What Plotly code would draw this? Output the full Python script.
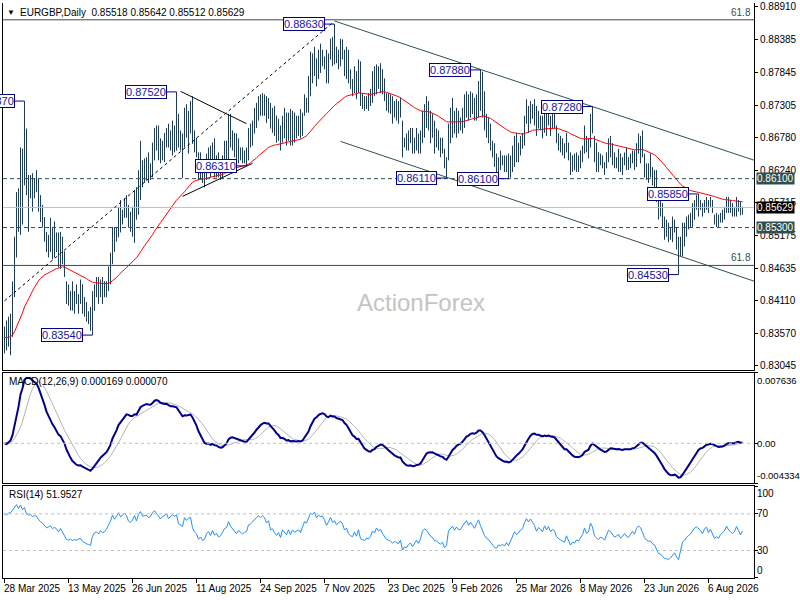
import numpy as np
import pandas as pd
import plotly.graph_objects as go
from plotly.subplots import make_subplots

# EURGBP daily bars (one bar per trading day)
highs = [
    0.8368, 0.8378, 0.8384, 0.8389, 0.8442, 0.8515, 0.8588, 0.8594, 0.8661, 0.8659,
    0.8737, 0.8692, 0.8616, 0.8616, 0.8619, 0.8611, 0.8624, 0.8611, 0.8583, 0.8567,
    0.8547, 0.8523, 0.8518, 0.8546, 0.8530, 0.8540, 0.8522, 0.8522, 0.8523, 0.8515,
    0.8491, 0.8442, 0.8437, 0.8426, 0.8442, 0.8426, 0.8437, 0.8421, 0.8445, 0.8437,
    0.8416, 0.8408, 0.8393, 0.8400, 0.8426, 0.8437, 0.8449, 0.8449, 0.8445, 0.8449,
    0.8442, 0.8442, 0.8466, 0.8489, 0.8531, 0.8531, 0.8531, 0.8564, 0.8575, 0.8559,
    0.8578, 0.8583, 0.8567, 0.8556, 0.8564, 0.8591, 0.8596, 0.8624, 0.8672, 0.8640,
    0.8643, 0.8645, 0.8653, 0.8635, 0.8669, 0.8693, 0.8697, 0.8697, 0.8676, 0.8672,
    0.8685, 0.8693, 0.8700, 0.8689, 0.8705, 0.8697, 0.8752, 0.8716, 0.8689, 0.8684,
    0.8726, 0.8732, 0.8721, 0.8737, 0.8745, 0.8689, 0.8677, 0.8653, 0.8653, 0.8635,
    0.8624, 0.8651, 0.8661, 0.8664, 0.8669, 0.8676, 0.8648, 0.8653, 0.8629, 0.8648,
    0.8672, 0.8672, 0.8716, 0.8716, 0.8689, 0.8685, 0.8684, 0.8676, 0.8661, 0.8661,
    0.8656, 0.8661, 0.8693, 0.8700, 0.8705, 0.8726, 0.8734, 0.8745, 0.8748, 0.8750,
    0.8748, 0.8745, 0.8742, 0.8734, 0.8726, 0.8729, 0.8713, 0.8708, 0.8697, 0.8713,
    0.8726, 0.8718, 0.8718, 0.8724, 0.8721, 0.8718, 0.8713, 0.8713, 0.8724, 0.8718,
    0.8748, 0.8742, 0.8778, 0.8818, 0.8815, 0.8826, 0.8807, 0.8821, 0.8831, 0.8821,
    0.8810, 0.8821, 0.8815, 0.8839, 0.8842, 0.8863, 0.8826, 0.8821, 0.8839, 0.8838,
    0.8821, 0.8826, 0.8821, 0.8789, 0.8773, 0.8794, 0.8786, 0.8805, 0.8802, 0.8750,
    0.8745, 0.8745, 0.8750, 0.8757, 0.8786, 0.8794, 0.8797, 0.8794, 0.8799, 0.8789,
    0.8774, 0.8750, 0.8750, 0.8748, 0.8745, 0.8737, 0.8740, 0.8737, 0.8742, 0.8705,
    0.8677, 0.8684, 0.8689, 0.8693, 0.8693, 0.8677, 0.8693, 0.8684, 0.8689, 0.8721,
    0.8732, 0.8745, 0.8737, 0.8721, 0.8716, 0.8705, 0.8692, 0.8689, 0.8677, 0.8677,
    0.8659, 0.8645, 0.8700, 0.8726, 0.8742, 0.8721, 0.8726, 0.8721, 0.8710, 0.8726,
    0.8748, 0.8753, 0.8748, 0.8753, 0.8750, 0.8742, 0.8748, 0.8770, 0.8788, 0.8785,
    0.8753, 0.8716, 0.8710, 0.8700, 0.8672, 0.8668, 0.8651, 0.8645, 0.8656, 0.8648,
    0.8648, 0.8648, 0.8651, 0.8648, 0.8664, 0.8680, 0.8685, 0.8669, 0.8680, 0.8685,
    0.8713, 0.8740, 0.8729, 0.8737, 0.8732, 0.8740, 0.8729, 0.8721, 0.8713, 0.8713,
    0.8724, 0.8718, 0.8724, 0.8713, 0.8716, 0.8718, 0.8697, 0.8684, 0.8680, 0.8676,
    0.8668, 0.8685, 0.8669, 0.8653, 0.8648, 0.8651, 0.8653, 0.8648, 0.8656, 0.8664,
    0.8697, 0.8680, 0.8676, 0.8716, 0.8728, 0.8680, 0.8669, 0.8653, 0.8651, 0.8648,
    0.8637, 0.8653, 0.8676, 0.8680, 0.8668, 0.8653, 0.8645, 0.8659, 0.8651, 0.8645,
    0.8653, 0.8661, 0.8645, 0.8651, 0.8656, 0.8656, 0.8668, 0.8684, 0.8680, 0.8689,
    0.8651, 0.8635, 0.8635, 0.8651, 0.8629, 0.8624, 0.8624, 0.8580, 0.8575, 0.8570,
    0.8548, 0.8543, 0.8538, 0.8531, 0.8548, 0.8543, 0.8531, 0.8515, 0.8515, 0.8538,
    0.8538, 0.8548, 0.8551, 0.8554, 0.8570, 0.8575, 0.8583, 0.8585, 0.8575, 0.8570,
    0.8575, 0.8580, 0.8575, 0.8580, 0.8575, 0.8551, 0.8554, 0.8551, 0.8554, 0.8559,
    0.8564, 0.8580, 0.8580, 0.8575, 0.8570, 0.8564, 0.8580, 0.8575, 0.8572, 0.8564,
]
lows = [
    0.8324, 0.8329, 0.8335, 0.8321, 0.8351, 0.8416, 0.8481, 0.8523, 0.8518, 0.8535,
    0.8599, 0.8583, 0.8523, 0.8578, 0.8556, 0.8578, 0.8588, 0.8556, 0.8539, 0.8530,
    0.8507, 0.8490, 0.8481, 0.8490, 0.8478, 0.8481, 0.8490, 0.8465, 0.8462, 0.8470,
    0.8449, 0.8405, 0.8402, 0.8394, 0.8394, 0.8389, 0.8405, 0.8389, 0.8405, 0.8389,
    0.8384, 0.8376, 0.8372, 0.8361, 0.8354, 0.8394, 0.8416, 0.8405, 0.8416, 0.8405,
    0.8416, 0.8416, 0.8426, 0.8437, 0.8470, 0.8490, 0.8507, 0.8514, 0.8522, 0.8535,
    0.8546, 0.8546, 0.8530, 0.8523, 0.8515, 0.8505, 0.8543, 0.8551, 0.8575, 0.8596,
    0.8603, 0.8608, 0.8603, 0.8608, 0.8612, 0.8640, 0.8656, 0.8640, 0.8635, 0.8640,
    0.8637, 0.8661, 0.8661, 0.8656, 0.8648, 0.8653, 0.8656, 0.8661, 0.8656, 0.8611,
    0.8661, 0.8677, 0.8651, 0.8684, 0.8667, 0.8653, 0.8645, 0.8608, 0.8608, 0.8603,
    0.8596, 0.8608, 0.8619, 0.8612, 0.8624, 0.8612, 0.8612, 0.8612, 0.8608, 0.8612,
    0.8629, 0.8619, 0.8629, 0.8661, 0.8656, 0.8645, 0.8632, 0.8635, 0.8640, 0.8635,
    0.8635, 0.8631, 0.8640, 0.8661, 0.8664, 0.8684, 0.8693, 0.8705, 0.8713, 0.8713,
    0.8713, 0.8701, 0.8708, 0.8692, 0.8685, 0.8680, 0.8669, 0.8672, 0.8656, 0.8669,
    0.8676, 0.8664, 0.8672, 0.8664, 0.8664, 0.8669, 0.8676, 0.8680, 0.8676, 0.8680,
    0.8713, 0.8718, 0.8718, 0.8745, 0.8766, 0.8778, 0.8761, 0.8773, 0.8783, 0.8794,
    0.8789, 0.8766, 0.8766, 0.8805, 0.8794, 0.8797, 0.8799, 0.8789, 0.8794, 0.8805,
    0.8778, 0.8773, 0.8766, 0.8757, 0.8745, 0.8750, 0.8740, 0.8750, 0.8729, 0.8724,
    0.8721, 0.8724, 0.8721, 0.8729, 0.8734, 0.8745, 0.8748, 0.8757, 0.8750, 0.8748,
    0.8737, 0.8721, 0.8718, 0.8716, 0.8700, 0.8710, 0.8705, 0.8700, 0.8710, 0.8645,
    0.8661, 0.8656, 0.8656, 0.8668, 0.8651, 0.8651, 0.8656, 0.8651, 0.8651, 0.8668,
    0.8677, 0.8693, 0.8689, 0.8668, 0.8677, 0.8651, 0.8661, 0.8656, 0.8645, 0.8651,
    0.8627, 0.8611, 0.8640, 0.8668, 0.8677, 0.8684, 0.8677, 0.8684, 0.8689, 0.8684,
    0.8693, 0.8710, 0.8705, 0.8710, 0.8716, 0.8705, 0.8705, 0.8710, 0.8721, 0.8710,
    0.8689, 0.8677, 0.8668, 0.8656, 0.8645, 0.8629, 0.8612, 0.8612, 0.8624, 0.8632,
    0.8621, 0.8621, 0.8610, 0.8612, 0.8621, 0.8629, 0.8637, 0.8637, 0.8648, 0.8659,
    0.8664, 0.8700, 0.8685, 0.8700, 0.8708, 0.8697, 0.8680, 0.8692, 0.8689, 0.8676,
    0.8685, 0.8680, 0.8697, 0.8680, 0.8692, 0.8692, 0.8668, 0.8656, 0.8653, 0.8648,
    0.8643, 0.8653, 0.8640, 0.8616, 0.8621, 0.8624, 0.8621, 0.8621, 0.8627, 0.8637,
    0.8651, 0.8653, 0.8643, 0.8661, 0.8684, 0.8637, 0.8621, 0.8621, 0.8632, 0.8627,
    0.8616, 0.8627, 0.8637, 0.8645, 0.8632, 0.8627, 0.8627, 0.8621, 0.8621, 0.8616,
    0.8632, 0.8624, 0.8624, 0.8627, 0.8635, 0.8624, 0.8629, 0.8651, 0.8635, 0.8645,
    0.8612, 0.8608, 0.8603, 0.8612, 0.8599, 0.8596, 0.8572, 0.8543, 0.8548, 0.8531,
    0.8510, 0.8515, 0.8506, 0.8510, 0.8506, 0.8522, 0.8494, 0.8453, 0.8483, 0.8483,
    0.8499, 0.8515, 0.8527, 0.8531, 0.8531, 0.8543, 0.8559, 0.8548, 0.8559, 0.8548,
    0.8554, 0.8559, 0.8554, 0.8564, 0.8554, 0.8535, 0.8531, 0.8531, 0.8538, 0.8538,
    0.8543, 0.8554, 0.8554, 0.8554, 0.8548, 0.8548, 0.8548, 0.8556, 0.8550, 0.8551,
]
closes = [
    0.8350, 0.8340, 0.8370, 0.8380, 0.8430, 0.8500, 0.8570, 0.8540, 0.8640, 0.8600,
    0.8660, 0.8600, 0.8590, 0.8600, 0.8580, 0.8600, 0.8595, 0.8570, 0.8550, 0.8540,
    0.8515, 0.8500, 0.8510, 0.8520, 0.8500, 0.8510, 0.8500, 0.8480, 0.8505, 0.8480,
    0.8455, 0.8420, 0.8415, 0.8420, 0.8410, 0.8415, 0.8410, 0.8415, 0.8420, 0.8400,
    0.8395, 0.8385, 0.8380, 0.8375, 0.8410, 0.8425, 0.8430, 0.8420, 0.8435, 0.8425,
    0.8430, 0.8440, 0.8460, 0.8480, 0.8520, 0.8505, 0.8525, 0.8555, 0.8540, 0.8550,
    0.8570, 0.8560, 0.8540, 0.8535, 0.8550, 0.8580, 0.8560, 0.8610, 0.8640, 0.8620,
    0.8625, 0.8630, 0.8620, 0.8630, 0.8660, 0.8680, 0.8670, 0.8660, 0.8650, 0.8665,
    0.8675, 0.8685, 0.8670, 0.8680, 0.8695, 0.8690, 0.8700, 0.8670, 0.8665, 0.8660,
    0.8710, 0.8700, 0.8715, 0.8720, 0.8680, 0.8660, 0.8650, 0.8620, 0.8630, 0.8610,
    0.8615, 0.8640, 0.8650, 0.8630, 0.8655, 0.8630, 0.8640, 0.8620, 0.8625, 0.8640,
    0.8660, 0.8665, 0.8700, 0.8680, 0.8670, 0.8655, 0.8645, 0.8660, 0.8650, 0.8645,
    0.8650, 0.8655, 0.8685, 0.8690, 0.8700, 0.8715, 0.8725, 0.8735, 0.8730, 0.8740,
    0.8735, 0.8720, 0.8730, 0.8700, 0.8705, 0.8690, 0.8680, 0.8690, 0.8670, 0.8700,
    0.8690, 0.8680, 0.8700, 0.8680, 0.8700, 0.8690, 0.8695, 0.8700, 0.8690, 0.8710,
    0.8740, 0.8735, 0.8770, 0.8800, 0.8795, 0.8815, 0.8795, 0.8815, 0.8810, 0.8812,
    0.8800, 0.8780, 0.8800, 0.8830, 0.8810, 0.8820, 0.8805, 0.8815, 0.8825, 0.8815,
    0.8790, 0.8800, 0.8775, 0.8765, 0.8760, 0.8780, 0.8760, 0.8790, 0.8740, 0.8735,
    0.8730, 0.8740, 0.8735, 0.8745, 0.8770, 0.8760, 0.8785, 0.8770, 0.8780, 0.8760,
    0.8745, 0.8730, 0.8725, 0.8720, 0.8710, 0.8715, 0.8710, 0.8705, 0.8715, 0.8660,
    0.8670, 0.8665, 0.8675, 0.8680, 0.8660, 0.8670, 0.8680, 0.8665, 0.8680, 0.8710,
    0.8720, 0.8715, 0.8700, 0.8690, 0.8685, 0.8670, 0.8670, 0.8660, 0.8655, 0.8660,
    0.8635, 0.8640, 0.8690, 0.8700, 0.8710, 0.8695, 0.8710, 0.8700, 0.8700, 0.8715,
    0.8730, 0.8740, 0.8725, 0.8740, 0.8730, 0.8720, 0.8740, 0.8760, 0.8740, 0.8720,
    0.8700, 0.8685, 0.8680, 0.8665, 0.8650, 0.8635, 0.8630, 0.8640, 0.8635, 0.8640,
    0.8630, 0.8640, 0.8625, 0.8640, 0.8655, 0.8670, 0.8660, 0.8665, 0.8675, 0.8680,
    0.8705, 0.8725, 0.8715, 0.8730, 0.8720, 0.8710, 0.8690, 0.8705, 0.8700, 0.8690,
    0.8715, 0.8700, 0.8715, 0.8695, 0.8705, 0.8700, 0.8675, 0.8665, 0.8660, 0.8655,
    0.8650, 0.8670, 0.8645, 0.8625, 0.8635, 0.8630, 0.8640, 0.8635, 0.8645, 0.8655,
    0.8680, 0.8660, 0.8665, 0.8705, 0.8690, 0.8650, 0.8640, 0.8630, 0.8640, 0.8635,
    0.8625, 0.8645, 0.8665, 0.8660, 0.8645, 0.8635, 0.8640, 0.8645, 0.8630, 0.8635,
    0.8645, 0.8635, 0.8630, 0.8640, 0.8650, 0.8640, 0.8660, 0.8670, 0.8665, 0.8650,
    0.8630, 0.8620, 0.8615, 0.8615, 0.8605, 0.8600, 0.8580, 0.8555, 0.8552, 0.8540,
    0.8520, 0.8518, 0.8512, 0.8515, 0.8520, 0.8525, 0.8500, 0.8480, 0.8500, 0.8525,
    0.8530, 0.8540, 0.8545, 0.8550, 0.8560, 0.8570, 0.8575, 0.8570, 0.8565, 0.8555,
    0.8570, 0.8575, 0.8560, 0.8570, 0.8555, 0.8540, 0.8545, 0.8540, 0.8550, 0.8555,
    0.8560, 0.8575, 0.8565, 0.8560, 0.8555, 0.8560, 0.8575, 0.8565, 0.8552, 0.8563,
]

# time axis: MT4 puts a label every 32 bars
date_idx = [0, 32, 64, 96, 128, 160, 192, 224, 256, 288, 320, 352]
date_labels = ["28 Mar 2025", "13 May 2025", "26 Jun 2025", "11 Aug 2025",
               "24 Sep 2025", "7 Nov 2025", "23 Dec 2025", "9 Feb 2026",
               "25 Mar 2026", "8 May 2026", "23 Jun 2026", "6 Aug 2026"]

price_ticks = [0.88910, 0.88385, 0.87845, 0.87305, 0.86780, 0.86240,
               0.85715, 0.85175, 0.84635, 0.84110, 0.83570, 0.83045]
price_min, price_max = 0.82973, 0.88975

macd_min, macd_max = -0.004334, 0.007636

# swing high/low labels
swing_idx = [10, 86, 121, 165, 221, 252, 238, 294, 347, 337, 44]
swing_price = [0.87370, 0.87520, 0.86310, 0.88630, 0.86110, 0.86100,
               0.87880, 0.87280, 0.85850, 0.84530, 0.83540]

fib_levels = [0.8870, 0.8468]
key_levels = [0.86100, 0.85300]
last_price = 0.85629

# drawn lines: (bar index pair, price pair)
channel_top = ([165, 375], [0.8868, 0.8640])
channel_bottom = ([168, 375], [0.8671, 0.8442])
up_trend = ([0, 164], [0.8410, 0.8865])
tri_top = ([88, 121], [0.8753, 0.8700])
tri_bottom = ([89, 124], [0.8581, 0.8635])

header = "EURGBP,Daily  0.85518 0.85642 0.85512 0.85629"
macd_title = "MACD(12,26,9) 0.000169 0.000070"
rsi_title = "RSI(14) 51.9527"

# ---- indicators ----
close = pd.Series(closes)
ema55 = close.ewm(span=55, adjust=False).mean()
macd = close.ewm(span=12, adjust=False).mean() - close.ewm(span=26, adjust=False).mean()
signal = macd.rolling(9, min_periods=1).mean()

delta = np.diff(np.array(closes))
gain = np.clip(delta, 0, None)
loss = np.clip(-delta, 0, None)
ag, al = gain[:14].mean(), loss[:14].mean()
rsi = [100 - 100 / (1 + ag / al)]
for g, l in zip(gain, loss):
    ag = (ag * 13 + g) / 14
    al = (al * 13 + l) / 14
    rsi.append(100 - 100 / (1 + ag / al))

n = len(closes)
idx = list(range(n))

FONT = "Liberation Sans"
SLATE = "#2F4F4F"
BAR = "#1F3D56"
NAVY = "#000080"

fig = make_subplots(rows=3, cols=1, shared_xaxes=True)

bx, by = [], []
for i in idx:
    bx += [i, i, None]
    by += [lows[i], highs[i], None]
fig.add_trace(go.Scatter(x=bx, y=by, mode="lines", line=dict(color=BAR, width=1),
                         hoverinfo="skip"), row=1, col=1)
fig.add_trace(go.Scatter(x=idx, y=ema55, mode="lines", line=dict(color="#FF0000", width=1)),
              row=1, col=1)

fig.add_trace(go.Scatter(x=idx, y=signal, mode="lines", line=dict(color="#B4B4B4", width=1)),
              row=2, col=1)
fig.add_trace(go.Scatter(x=idx, y=macd, mode="lines", line=dict(color="#00008B", width=2)),
              row=2, col=1)
fig.add_trace(go.Scatter(x=idx, y=rsi, mode="lines", line=dict(color="#1E90FF", width=1)),
              row=3, col=1)

shapes = []
def hline(y, yref, color, dash="solid"):
    shapes.append(dict(type="line", xref="x domain", x0=0, x1=1, yref=yref, y0=y, y1=y,
                       line=dict(color=color, width=1, dash=dash)))

hline(last_price, "y", "#C0C0C0")
for lv in fib_levels:
    hline(lv, "y", SLATE)
for lv in key_levels:
    hline(lv, "y", SLATE, "4px,3px")
hline(0, "y2", "#C0C0C0", "3px,3px")
hline(70, "y3", "#C0C0C0", "3px,3px")
hline(30, "y3", "#C0C0C0", "3px,3px")

def seg(line, color, dash="solid"):
    (x0, x1), (y0, y1) = line
    shapes.append(dict(type="line", xref="x", yref="y", x0=x0, x1=x1, y0=y0, y1=y1,
                       line=dict(color=color, width=1, dash=dash)))

seg(channel_top, SLATE)
seg(channel_bottom, SLATE)
seg(up_trend, "#000000", "3px,3px")
seg(tri_top, "#000000")
seg(tri_bottom, "#000000")

ann = []
for i, p in zip(swing_idx, swing_price):
    shapes.append(dict(type="line", xref="x", yref="y", x0=i - 5, x1=i, y0=p, y1=p,
                       line=dict(color=NAVY, width=1)))
    ann.append(dict(x=i - 5, y=p, xref="x", yref="y", text=f"{p:.5f}", showarrow=False,
                    xanchor="right", yanchor="middle", bgcolor="white", bordercolor=NAVY,
                    borderwidth=1, borderpad=0, font=dict(family=FONT, size=11, color="#1414A0")))

for lv in fib_levels:
    ann.append(dict(x=1, y=lv, xref="paper", yref="y", text="61.8", showarrow=False,
                    xanchor="right", yanchor="bottom", xshift=-1,
                    font=dict(family=FONT, size=10, color=SLATE)))

ann.append(dict(x=208, y=0.8408, xref="x", yref="y", text="ActionForex", showarrow=False,
                font=dict(family=FONT, size=24, color="#C4C4C4")))

# right-axis highlighted values
for val, bg in [(key_levels[0], SLATE), (last_price, "#000000"), (key_levels[1], SLATE)]:
    ann.append(dict(x=1, y=val, xref="paper", yref="y", text=f"{val:.5f}", showarrow=False,
                    xanchor="left", xshift=2, bgcolor=bg, borderpad=0,
                    font=dict(family=FONT, size=10, color="white")))

def rlabel(y, yref, text, anchor, size=10):
    ann.append(dict(x=1, y=y, xref="paper", yref=yref, text=text, showarrow=False,
                    xanchor="left", yanchor=anchor, xshift=1,
                    font=dict(family=FONT, size=size, color="black")))

rlabel(macd_max, "y2", f"{macd_max:.6f}", "top", 9.5)
rlabel(0, "y2", "0.00", "middle", 9.5)
rlabel(macd_min, "y2", f"{macd_min:.6f}", "bottom", 9.5)
rlabel(100, "y3", "100", "top")
rlabel(70, "y3", "70", "middle")
rlabel(30, "y3", "30", "middle")
rlabel(0, "y3", "0", "bottom")

# panel titles
def ptext(xp, yp, text, size=10):
    ann.append(dict(x=xp, y=yp, xref="paper", yref="paper", text=text, showarrow=False,
                    xanchor="left", yanchor="middle", font=dict(family=FONT, size=size, color="black")))

ptext(0.002, 0.984, "▼", 8)
ptext(0.020, 0.984, header)
ptext(0.005, 0.3414, macd_title)
ptext(0.005, 0.1456, rsi_title)

for i, lab in zip(date_idx, date_labels):
    ann.append(dict(x=i, y=-0.006, xref="x3", yref="paper", text=lab, showarrow=False,
                    xanchor="left", yanchor="top", xshift=-3,
                    font=dict(family=FONT, size=10, color="black")))

fig.update_layout(
    width=800, height=600, margin=dict(l=3, r=46, t=1, b=22),
    paper_bgcolor="white", plot_bgcolor="white", showlegend=False,
    shapes=shapes, annotations=ann,
)

xa = dict(range=[-0.75, 374.75], showgrid=False, zeroline=False, showline=True,
          linecolor="black", linewidth=1, showticklabels=False, ticks="")
fig.update_xaxes(**xa)
fig.update_xaxes(mirror=True, row=2, col=1)
fig.update_xaxes(mirror=True, ticks="outside", ticklen=4, tickcolor="black",
                 tickvals=date_idx, row=3, col=1)

ya = dict(side="right", showgrid=False, zeroline=False, showline=True, mirror=True,
          linecolor="black", linewidth=1, ticks="outside", ticklen=3, tickcolor="black",
          tickfont=dict(family=FONT, size=10, color="black"))
fig.update_yaxes(**ya)
fig.update_yaxes(domain=[0.3622, 1.0], range=[price_min, price_max], tickvals=price_ticks,
                 tickformat=".5f", ticklabeloverflow="allow", row=1, col=1)
fig.update_yaxes(domain=[0.1646, 0.3570], range=[macd_min, macd_max],
                 tickvals=[macd_max, 0, macd_min], showticklabels=False, row=2, col=1)
fig.update_yaxes(domain=[0, 0.1594], range=[0, 100], tickvals=[100, 70, 30, 0],
                 showticklabels=False, row=3, col=1)

# page body has a default 8px margin; drop it so the 800x600 figure fills the window
fig.write_html("out.html", config={"displayModeBar": False},
               post_script="document.body.style.margin='0';")
